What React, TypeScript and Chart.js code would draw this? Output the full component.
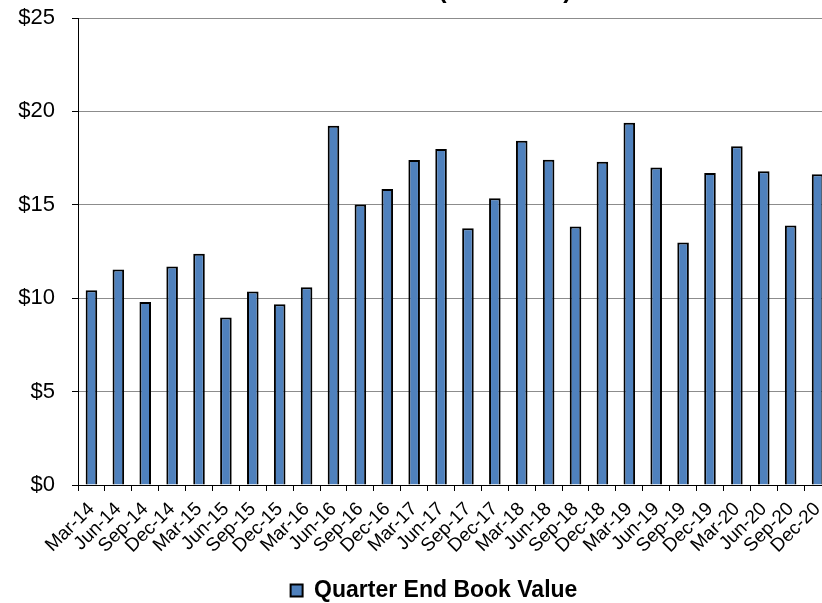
import React, { useEffect, useRef } from "react";
import { Chart, registerables } from "chart.js";

Chart.register(...registerables);

const categories = [
  "Mar-14", "Jun-14", "Sep-14", "Dec-14",
  "Mar-15", "Jun-15", "Sep-15", "Dec-15",
  "Mar-16", "Jun-16", "Sep-16", "Dec-16",
  "Mar-17", "Jun-17", "Sep-17", "Dec-17",
  "Mar-18", "Jun-18", "Sep-18", "Dec-18",
  "Mar-19", "Jun-19", "Sep-19", "Dec-19",
  "Mar-20", "Jun-20", "Sep-20", "Dec-20",
];

const bookValues = [
  10.42, 11.54, 9.79, 11.7,
  12.38, 8.97, 10.36, 9.67,
  10.59, 19.23, 15.01, 15.85,
  17.4, 17.99, 13.75, 15.35,
  18.43, 17.41, 13.84, 17.31,
  19.39, 17.0, 12.98, 16.7,
  18.13, 16.79, 13.89, 16.63,
];

const yMin = 0;
const yMax = 25;
const yStep = 5;

const seriesLabel = "Quarter End Book Value";
const titleText = "Book Value (Per Share)";

const FONT = "'Liberation Sans', Arial, Helvetica, sans-serif";

export default function App() {
  const canvasRef = useRef<HTMLCanvasElement | null>(null);

  useEffect(() => {
    const canvas = canvasRef.current;
    if (!canvas) return;
    const chart = new Chart(canvas, {
      type: "bar",
      data: {
        labels: categories,
        datasets: [
          {
            label: seriesLabel,
            data: bookValues,
            backgroundColor: "#4F81BD",
            borderColor: "#000000",
            borderWidth: 2,
            barPercentage: 0.43,
            categoryPercentage: 1.0,
            yAxisID: "y",
          },
        ],
      },
      options: {
        responsive: false,
        animation: false,
        layout: { padding: { left: 0, right: 0, top: 0, bottom: 0 } },
        plugins: {
          title: {
            display: true,
            text: titleText,
            color: "#000",
            font: { family: FONT, size: 25, weight: "bold" },
            padding: { top: 0, bottom: 12 },
          },
          legend: {
            position: "bottom",
            labels: {
              color: "#000",
              font: { family: FONT, size: 23, weight: "bold" },
              boxWidth: 12,
              boxHeight: 12,
              padding: 26,
            },
          },
          tooltip: { enabled: false },
        },
        scales: {
          x: {
            grid: {
              display: true,
              drawOnChartArea: false,
              drawTicks: true,
              tickLength: 6,
              tickColor: "#000",
              offset: true,
            },
            border: { color: "#000", width: 1 },
            ticks: {
              color: "#000",
              font: { family: FONT, size: 19 },
              minRotation: 45,
              maxRotation: 45,
              autoSkip: false,
              padding: 7,
              labelOffset: 0,
            },
            afterFit: (s: any) => {
              s.height = 68;
            },
          },
          y: {
            position: "left",
            min: yMin,
            max: yMax,
            grid: { color: "#8c8c8c", tickColor: "#000", tickLength: 6, lineWidth: 1 },
            border: { color: "#000", width: 1 },
            ticks: {
              stepSize: yStep,
              color: "#000",
              font: { family: FONT, size: 22 },
              padding: 17,
              callback: (v: any) => "$" + v,
            },
            afterFit: (s: any) => {
              s.width = 78;
            },
          },
          // empty right-hand margin of the plot (nothing drawn)
          yRightMargin: {
            type: "linear",
            position: "right",
            display: true,
            grid: { display: false, drawOnChartArea: false, drawTicks: false },
            border: { display: false },
            ticks: { display: false },
            afterFit: (s: any) => {
              s.width = 37;
            },
          },
        },
      },
    });
    return () => chart.destroy();
  }, []);

  return (
    <div
      style={{
        position: "fixed",
        left: 0,
        top: 0,
        width: 822,
        height: 603,
        overflow: "hidden",
        background: "#fff",
      }}
    >
      <div style={{ position: "absolute", left: 0, top: -24, width: 868, height: 636 }}>
        <canvas ref={canvasRef} width={868} height={636} style={{ width: 868, height: 636 }} />
      </div>
    </div>
  );
}
